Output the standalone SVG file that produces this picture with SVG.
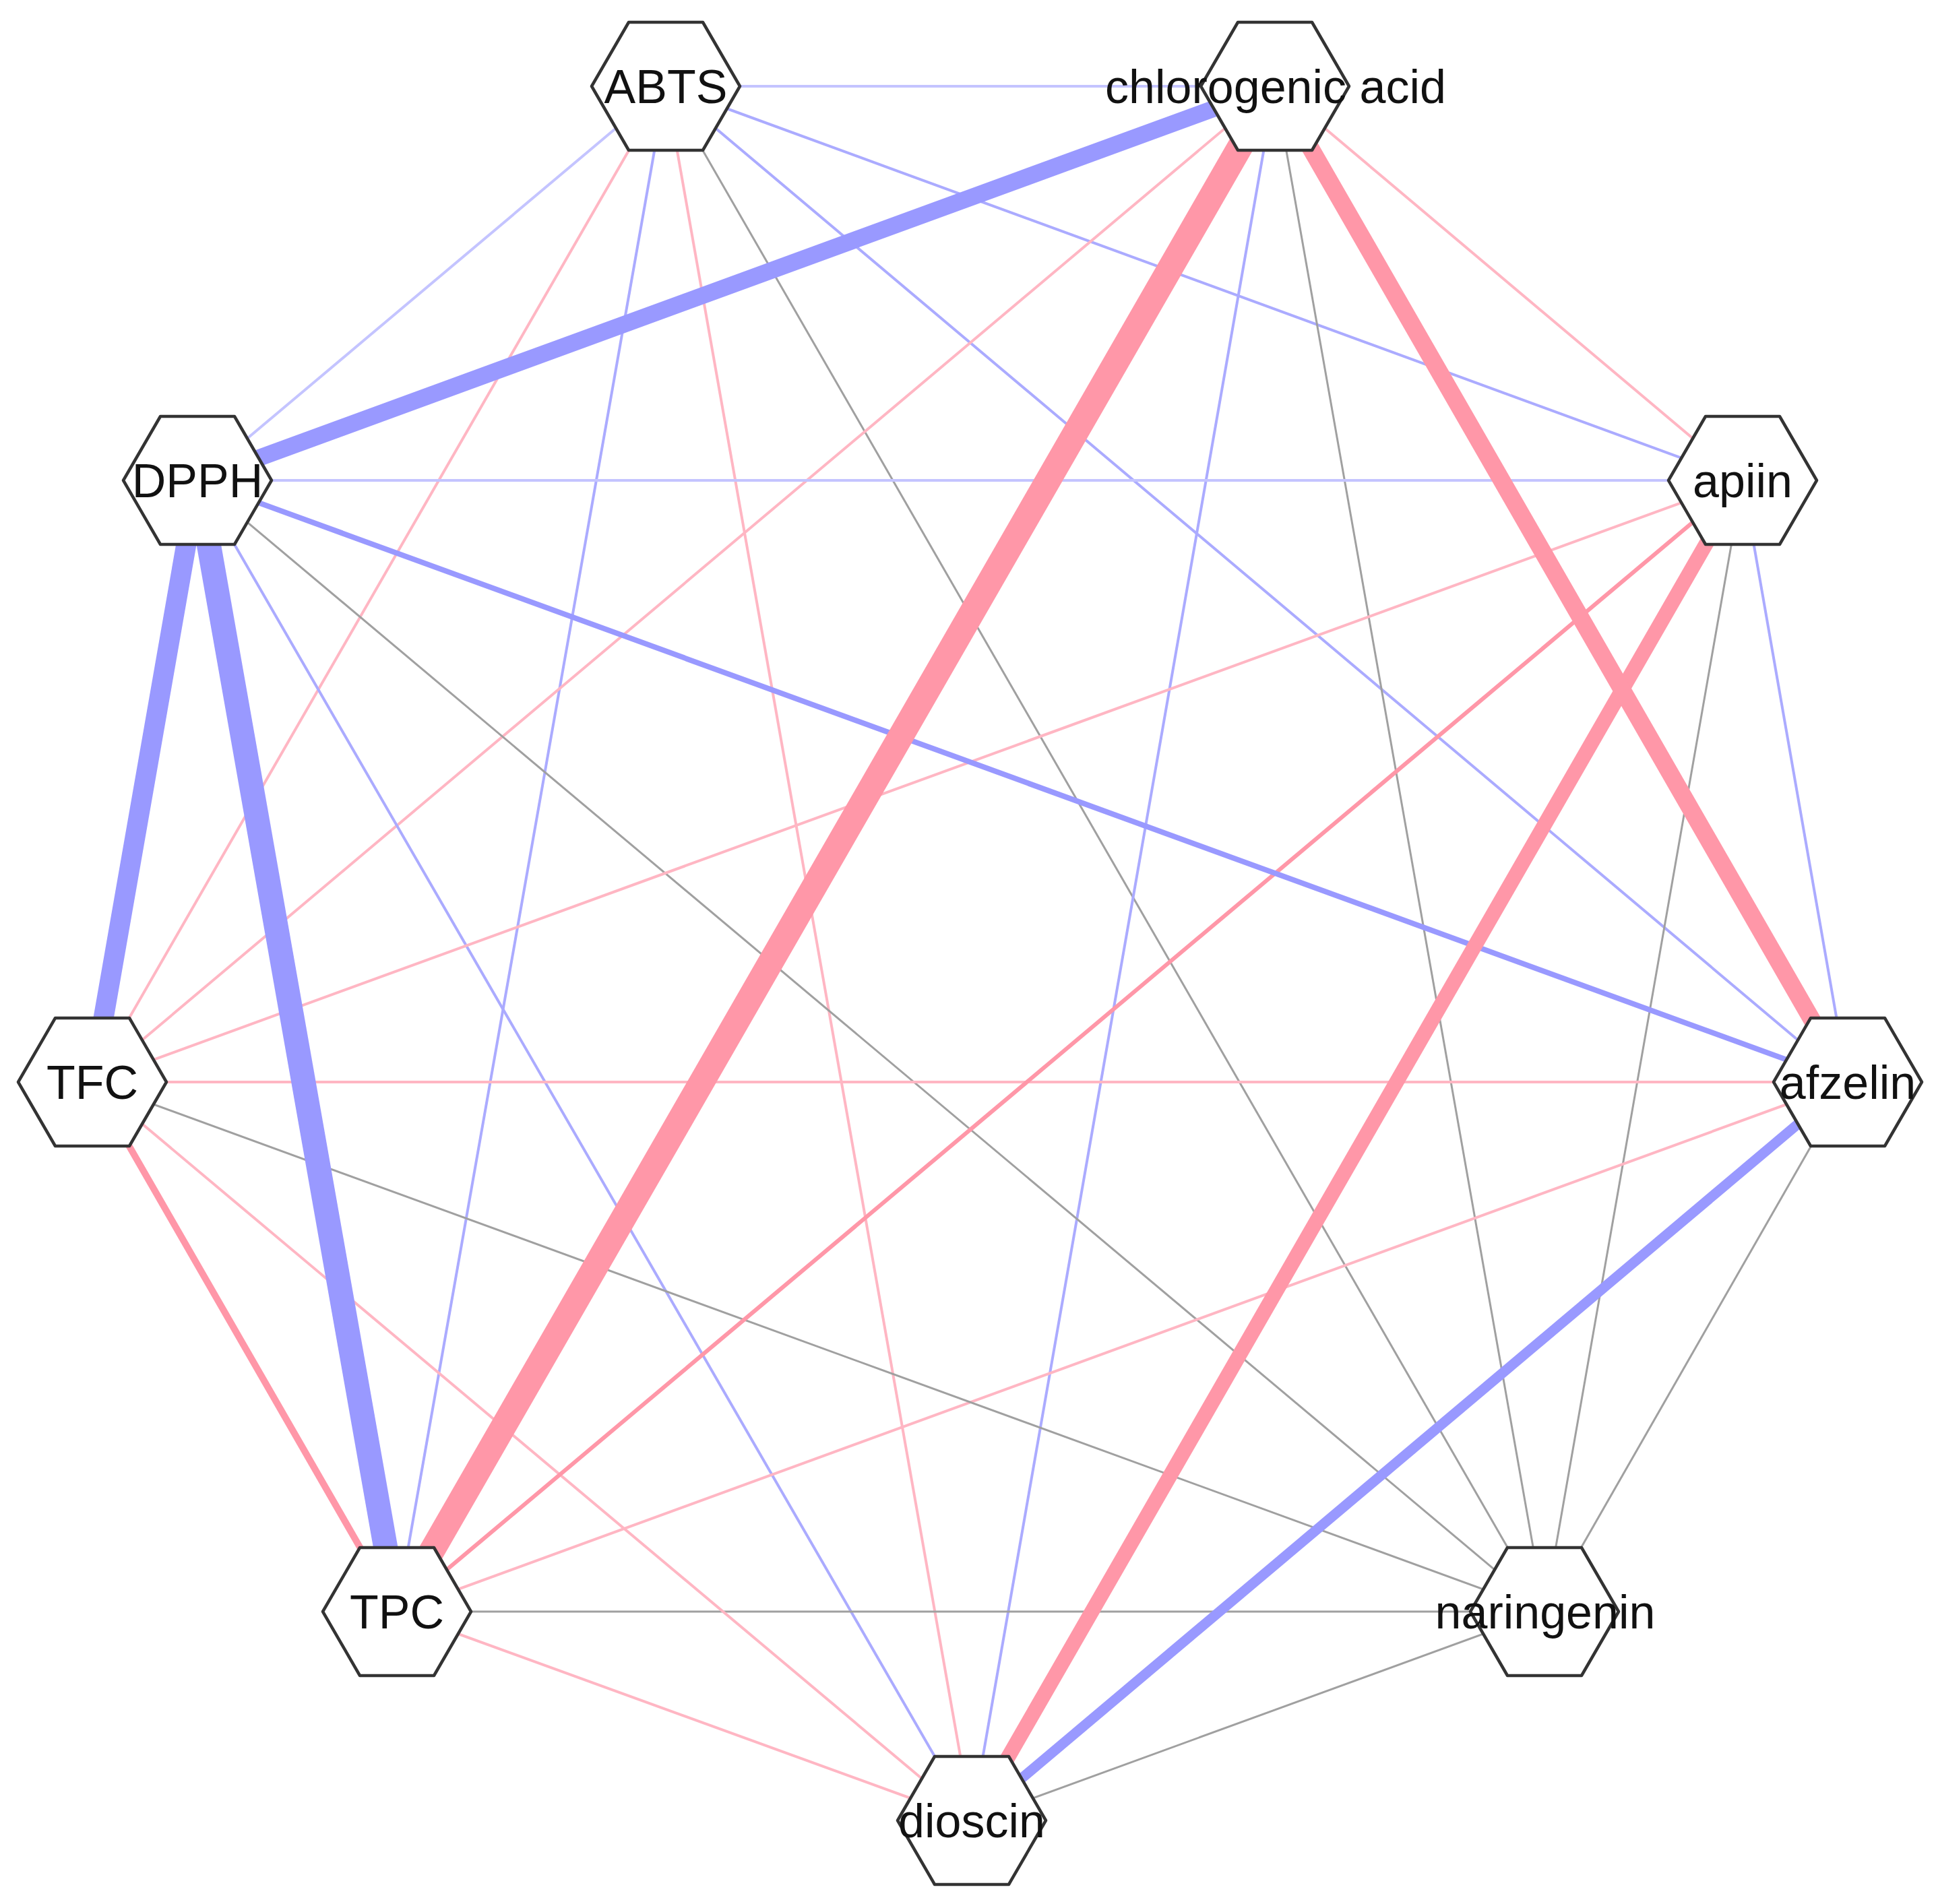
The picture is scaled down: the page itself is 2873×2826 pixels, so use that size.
<svg xmlns="http://www.w3.org/2000/svg" xmlns:xlink="http://www.w3.org/1999/xlink" width="2873" height="2826" viewBox="0 0 2873 2826">
<style>
.e{fill:none;stroke-linecap:butt}
.bt{stroke:#C4C4FF;stroke-width:4}
.bm{stroke:#ABABFF}
.b{stroke:#9999FF}
.pt{stroke:#FFB6C3;stroke-width:4}
.p{stroke:#FF97A8}
.g{stroke:#A0A0A0;stroke-width:3}
.hex{fill:#FFFFFF;stroke:#333333;stroke-width:4.5;stroke-linejoin:round}
.lbl{font-family:"Liberation Sans",Arial,sans-serif;font-size:70px;fill:#111111;text-anchor:middle}
</style>
<defs>
<polygon id="hex" class="hex" points="-110,0 -55,-95 55,-95 110,0 55,95 -55,95"/>
</defs>
<rect width="2873" height="2826" fill="#FFFFFF"/>
<g id="edges">
<line class="e bt" x1="988" y1="128" x2="1892" y2="128"/>
<line class="e bt" x1="988" y1="128" x2="293" y2="713"/>
<line class="e bt bm" x1="988" y1="128" x2="2586" y2="713"/>
<line class="e bt bm" x1="988" y1="128" x2="2742" y2="1606"/>
<line class="e g" x1="988" y1="128" x2="2292" y2="2392"/>
<line class="e pt" x1="988" y1="128" x2="1442" y2="2702"/>
<line class="e bt bm" x1="988" y1="128" x2="589" y2="2392"/>
<line class="e pt" x1="988" y1="128" x2="137" y2="1606"/>
<line class="e pt" x1="1892" y1="128" x2="2586" y2="713"/>
<line class="e g" x1="1892" y1="128" x2="2292" y2="2392"/>
<line class="e bt bm" x1="1892" y1="128" x2="1442" y2="2702"/>
<line class="e pt" x1="1892" y1="128" x2="137" y2="1606"/>
<line class="e bt" x1="293" y1="713" x2="2586" y2="713"/>
<line class="e g" x1="293" y1="713" x2="2292" y2="2392"/>
<line class="e bt bm" x1="293" y1="713" x2="1442" y2="2702"/>
<line class="e pt" x1="2586" y1="713" x2="137" y2="1606"/>
<line class="e g" x1="2586" y1="713" x2="2292" y2="2392"/>
<line class="e bt bm" x1="2586" y1="713" x2="2742" y2="1606"/>
<line class="e pt" x1="2742" y1="1606" x2="137" y2="1606"/>
<line class="e pt" x1="2742" y1="1606" x2="589" y2="2392"/>
<line class="e g" x1="2742" y1="1606" x2="2292" y2="2392"/>
<line class="e g" x1="2292" y1="2392" x2="137" y2="1606"/>
<line class="e g" x1="2292" y1="2392" x2="589" y2="2392"/>
<line class="e g" x1="2292" y1="2392" x2="1442" y2="2702"/>
<line class="e pt" x1="1442" y1="2702" x2="589" y2="2392"/>
<line class="e pt" x1="1442" y1="2702" x2="137" y2="1606"/>
<line class="e p" stroke-width="6" x1="2586" y1="713" x2="589" y2="2392"/>
<line class="e b" stroke-width="8" x1="293" y1="713" x2="2742" y2="1606"/>
<line class="e p" stroke-width="10" x1="589" y1="2392" x2="137" y2="1606"/>
<line class="e b" stroke-width="15" x1="2742" y1="1606" x2="1442" y2="2702"/>
<line class="e p" stroke-width="22" x1="2586" y1="713" x2="1442" y2="2702"/>
<line class="e p" stroke-width="26" x1="1892" y1="128" x2="2742" y2="1606"/>
<line class="e b" stroke-width="25" x1="1892" y1="128" x2="293" y2="713"/>
<line class="e b" stroke-width="30" x1="293" y1="713" x2="137" y2="1606"/>
<line class="e b" stroke-width="36" x1="293" y1="713" x2="589" y2="2392"/>
<line class="e p" stroke-width="38" x1="1892" y1="128" x2="589" y2="2392"/>
</g>
<g id="node-ABTS"><use xlink:href="#hex" x="988" y="128"/><text class="lbl" x="988" y="153">ABTS</text></g>
<g id="node-chlorogenic-acid"><use xlink:href="#hex" x="1892" y="128"/><text class="lbl" x="1893" y="153">chlorogenic acid</text></g>
<g id="node-apiin"><use xlink:href="#hex" x="2586" y="713"/><text class="lbl" x="2586" y="738">apiin</text></g>
<g id="node-afzelin"><use xlink:href="#hex" x="2742" y="1606"/><text class="lbl" x="2742" y="1631">afzelin</text></g>
<g id="node-naringenin"><use xlink:href="#hex" x="2292" y="2392"/><text class="lbl" x="2293" y="2417">naringenin</text></g>
<g id="node-dioscin"><use xlink:href="#hex" x="1442" y="2702"/><text class="lbl" x="1442" y="2727">dioscin</text></g>
<g id="node-TPC"><use xlink:href="#hex" x="589" y="2392"/><text class="lbl" x="589" y="2417">TPC</text></g>
<g id="node-TFC"><use xlink:href="#hex" x="137" y="1606"/><text class="lbl" x="137" y="1631">TFC</text></g>
<g id="node-DPPH"><use xlink:href="#hex" x="293" y="713"/><text class="lbl" x="293" y="738">DPPH</text></g>
</svg>
